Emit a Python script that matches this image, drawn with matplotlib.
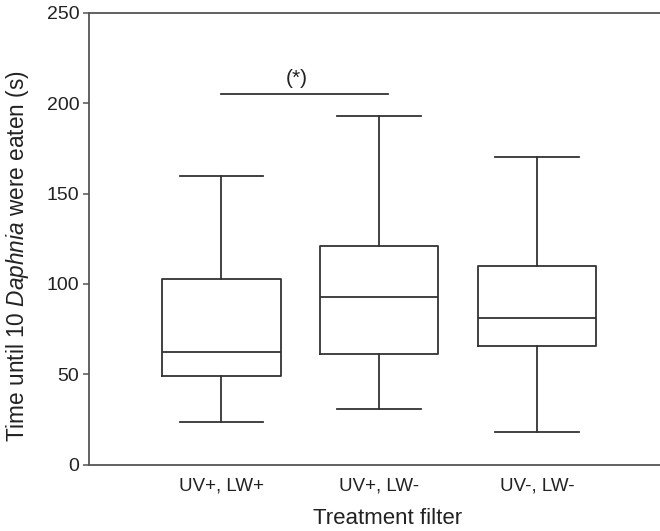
import matplotlib
matplotlib.use("Agg")
import matplotlib.pyplot as plt

plt.rcParams['font.family'] = ['Liberation Sans', 'DejaVu Sans']
plt.rcParams['mathtext.fontset'] = 'custom'
plt.rcParams['mathtext.rm'] = 'Liberation Sans'
plt.rcParams['mathtext.it'] = 'Liberation Sans:italic'

categories = ["UV+, LW+", "UV+, LW-", "UV-, LW-"]
whisker_low = [23.6, 30.8, 18.0]
q1 = [49.1, 61.2, 65.8]
median = [62.5, 93.0, 81.0]
q3 = [102.6, 121.0, 110.0]
whisker_high = [160.0, 192.9, 170.5]
sig_y = 205
sig_label = "(*)"

yticks = [0, 50, 100, 150, 200, 250]

fig = plt.figure(figsize=(6.6, 5.31), dpi=100)
ax = fig.add_axes([89/660, 66.4/531, 1 - 89/660, (464.6 - 13)/531])

stats = []
for i, c in enumerate(categories):
    stats.append(dict(label=c, whislo=whisker_low[i], q1=q1[i], med=median[i],
                      q3=q3[i], whishi=whisker_high[i], fliers=[]))

lc = '#333333'
ax.bxp(stats, positions=[1, 2, 3], widths=0.75, capwidths=0.53,
       showfliers=False,
       boxprops=dict(color=lc, linewidth=1.3),
       whiskerprops=dict(color=lc, linewidth=1.3),
       capprops=dict(color=lc, linewidth=1.3),
       medianprops=dict(color=lc, linewidth=1.3))

ax.set_xlim(0.16, 3.78)
ax.set_ylim(0, 250)
ax.set_yticks(yticks)
ax.set_xticks([1, 2, 3])
ax.set_xticklabels(categories)

for s in ['left', 'bottom', 'top']:
    ax.spines[s].set_color('#555555')
    ax.spines[s].set_linewidth(1.3)
ax.spines['right'].set_visible(False)

ax.tick_params(axis='y', direction='out', length=4, width=1.1, color='#555555',
               labelsize=14, labelcolor='#222222', pad=3)
ax.tick_params(axis='x', length=0, labelsize=13.5, labelcolor='#222222', pad=9)

ax.plot([1.0, 2.054], [sig_y, sig_y], color=lc, linewidth=1.3)
ax.text(1.48, sig_y + 9, sig_label, ha='center', va='center', fontsize=15, color='#222222')

fig.text(18/660, 1 - 256/531, r"Time until 10 $\it{Daphnia}$ were eaten (s)",
         rotation=90, ha='center', va='center', fontsize=16.3, color='#222222')
fig.text(388/660, 1 - 519/531, "Treatment filter", ha='center', va='center',
         fontsize=16, color='#222222')

fig.savefig("out.png", dpi=100)
